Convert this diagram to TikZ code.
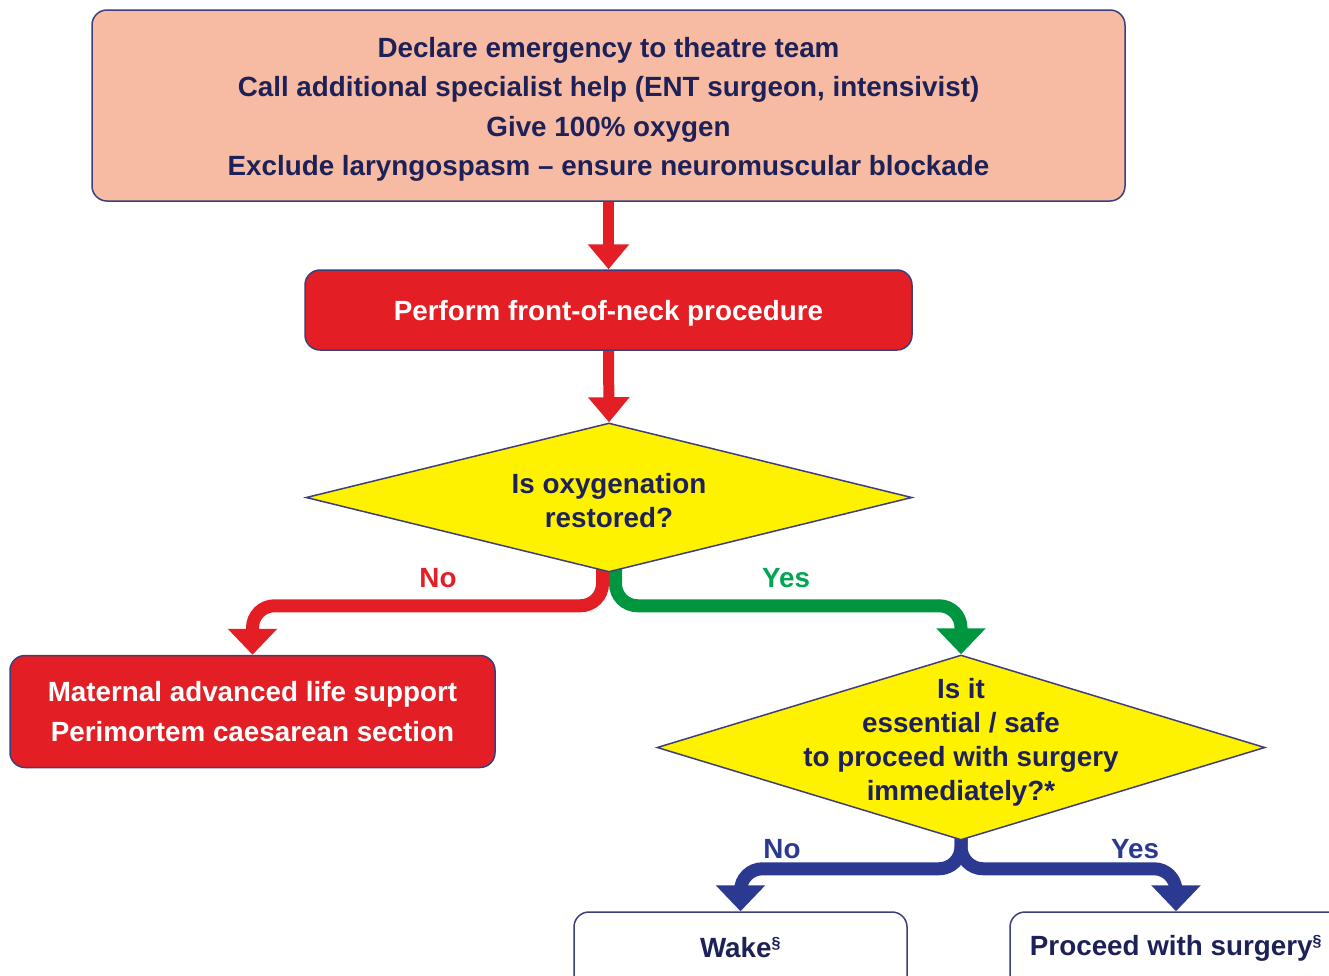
\documentclass[tikz,border=0pt]{standalone}
\usepackage{fontspec}
\setmainfont{Liberation Sans}
\usetikzlibrary{shapes.geometric,arrows.meta,backgrounds}
\definecolor{navy}{RGB}{30,33,88}
\definecolor{bordc}{RGB}{62,62,122}
\definecolor{salmon}{RGB}{246,187,162}
\definecolor{fred}{RGB}{227,30,36}
\definecolor{fyellow}{RGB}{255,242,0}
\definecolor{fgreen}{RGB}{0,150,64}
\definecolor{lgreen}{RGB}{0,166,81}
\definecolor{fblue}{RGB}{43,57,144}
\begin{document}
\begin{tikzpicture}[x=1pt,y=-1pt,
  box/.style={draw=bordc, line width=1.5pt, rounded corners=15pt, inner sep=0pt,
    font=\fontsize{27.8}{39.5}\selectfont\bfseries, align=center},
  btext/.style={align=center, inner sep=0pt, font=\fontsize{27.8}{39.5}\selectfont\bfseries},
  dia/.style={diamond, draw=bordc, line width=1.5pt, fill=fyellow, inner sep=0pt},
  dtext/.style={text=navy, align=center, font=\fontsize{27.8}{34}\selectfont\bfseries},
  lab/.style={font=\fontsize{27.8}{30}\selectfont\bfseries},
  vArrow/.style={draw=fred, line width=11pt, -{Triangle[width=40pt,length=25pt]}},
  brArrow/.style={line width=13pt, rounded corners=22pt, -{Triangle[width=48pt,length=26pt]}}
]
\useasboundingbox (0,0) rectangle (1329,975);
\clip (0,0) rectangle (1329,975);

\node[box, fill=salmon, minimum width=1033, minimum height=191] (top) at (608.5,105.5) {};
\node[btext, text=navy] (topt) at (608.5,109.5)
  {Declare emergency to theatre team\\
   Call additional specialist help (ENT surgeon, intensivist)\\
   Give 100\% oxygen\\
   Exclude laryngospasm -- ensure neuromuscular blockade};

\node[box, fill=fred, minimum width=607, minimum height=80] (perf) at (608.5,310) {};
\node[btext, text=white] (perft) at (608.5,313) {Perform front-of-neck procedure};

\node[dia, minimum width=606, minimum height=149] (d1) at (609,497.5) {};
\node[dtext] (d1t) at (609,501) {Is oxygenation\\restored?};

\node[box, fill=fred, text=white, minimum width=485, minimum height=112,
  font=\fontsize{27.8}{40}\selectfont\bfseries] (mat) at (252.5,711.5)
  {Maternal advanced life support\\Perimortem caesarean section};

\node[dia, minimum width=608, minimum height=185] (d2) at (961,747.5) {};
\node[dtext] (d2t) at (961,742) {Is it\\essential / safe\\to proceed with surgery\\immediately?*};

\node[box, fill=white, minimum width=333, minimum height=80] (wake) at (740.5,952) {};
\node[btext, text=navy] (waket) at (740.5,948) {Wake\textsuperscript{\fontsize{16}{16}\selectfont§}};
\node[box, fill=white, minimum width=332, minimum height=80] (proc) at (1176,952) {};
\node[btext, text=navy] (proct) at (1176,948) {Proceed with surgery\textsuperscript{\fontsize{16}{16}\selectfont§}};

\node[lab, text=fred] (no1) at (438,578) {No};
\node[lab, text=lgreen] (yes1) at (786,578) {Yes};
\node[lab, text=fblue] (no2) at (782,849) {No};
\node[lab, text=fblue] (yes2) at (1135,849) {Yes};

\begin{scope}[on background layer]
\draw[vArrow] (top.south) -- (perf.north);
\draw[vArrow] (perf.south) -- (d1.north);
\draw[brArrow, draw=fred] ([shift={(-6.5,-8)}]d1.south) -- ++(0,41) -| (mat.north);
\draw[brArrow, draw=fgreen] ([shift={(6.5,-8)}]d1.south) -- ++(0,41) -| (d2.north);
\draw[brArrow, draw=fblue] ([shift={(0,-8)}]d2.south) -- ++(0,36) -| (wake.north);
\draw[brArrow, draw=fblue] ([shift={(0,-8)}]d2.south) -- ++(0,36) -| (proc.north);
\end{scope}
\end{tikzpicture}
\end{document}
